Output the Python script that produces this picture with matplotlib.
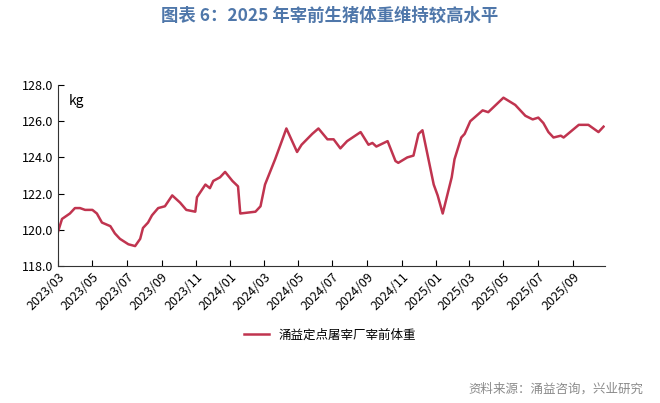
import matplotlib
matplotlib.use("Agg")
import matplotlib.pyplot as plt
import matplotlib.dates as mdates
import pandas as pd

plt.rcParams['font.family'] = ['Noto Sans CJK SC', 'DejaVu Sans']

dates = ["2023-03-01","2023-03-08","2023-03-22","2023-03-31","2023-04-09","2023-04-18","2023-05-01","2023-05-09",
 "2023-05-18","2023-06-02","2023-06-10","2023-06-19","2023-07-04","2023-07-16","2023-07-25","2023-07-30","2023-08-08",
 "2023-08-15","2023-08-26","2023-09-07","2023-09-20","2023-10-04","2023-10-15","2023-10-31","2023-11-03","2023-11-18",
 "2023-11-26","2023-12-02","2023-12-14","2023-12-23","2024-01-05","2024-01-15","2024-01-19","2024-02-15","2024-02-24",
 "2024-03-03","2024-03-21","2024-04-03","2024-04-10","2024-04-29","2024-05-07","2024-05-26","2024-06-06","2024-06-22",
 "2024-07-03","2024-07-15","2024-07-27","2024-08-20","2024-09-03","2024-09-10","2024-09-17","2024-10-07","2024-10-21",
 "2024-10-26","2024-11-11","2024-11-22","2024-12-01","2024-12-08","2024-12-28","2025-01-04","2025-01-13","2025-01-29",
 "2025-02-03","2025-02-15","2025-02-21","2025-03-03","2025-03-25","2025-04-04","2025-05-01","2025-05-22","2025-06-09",
 "2025-06-22","2025-07-02","2025-07-11","2025-07-20","2025-07-29","2025-08-11","2025-08-16","2025-09-12","2025-09-29",
 "2025-10-17","2025-10-26"]
weights = [119.9,120.6,120.9,121.2,121.2,121.1,121.1,120.9,120.4,120.2,119.8,119.5,119.2,119.1,119.5,120.1,120.4,
 120.8,121.2,121.3,121.9,121.5,121.1,121.0,121.8,122.5,122.3,122.7,122.9,123.2,122.7,122.4,120.9,121.0,121.3,
 122.5,123.9,125.0,125.6,124.3,124.7,125.3,125.6,125.0,125.0,124.5,124.9,125.4,124.7,124.8,124.6,124.9,123.8,
 123.7,124.0,124.1,125.3,125.5,122.5,121.9,120.9,122.9,123.9,125.1,125.3,126.0,126.6,126.5,127.3,126.9,126.3,
 126.1,126.2,125.9,125.4,125.1,125.2,125.1,125.8,125.8,125.4,125.7]
series_name = "涌益定点屠宰厂宰前体重"
title = "图表 6：2025 年宰前生猪体重维持较高水平"
source = "资料来源：涌益咨询，兴业研究"

fig = plt.figure(figsize=(6.6, 4.03), dpi=100)
ax = fig.add_axes([0.088, 0.34, 0.829, 0.449])
x = pd.to_datetime(dates)
ln, = ax.plot(x, weights, color="#c0344f", lw=1.8)
ax.set_ylim(118, 128)
ax.set_yticks([118, 120, 122, 124, 126, 128])
ax.yaxis.set_major_formatter(matplotlib.ticker.FormatStrFormatter('%.1f'))
ax.set_xlim(pd.Timestamp("2023-03-01"), pd.Timestamp("2025-10-29"))
ax.xaxis.set_major_locator(mdates.MonthLocator(bymonth=[1,3,5,7,9,11]))
ax.xaxis.set_major_formatter(mdates.DateFormatter('%Y/%m'))
for s in ['top', 'right']:
    ax.spines[s].set_visible(False)
for s in ['left', 'bottom']:
    ax.spines[s].set_color('#333333')
ax.tick_params(axis='x', rotation=45, labelsize=9, direction='in', length=4)
ax.tick_params(axis='y', labelsize=9, direction='in', length=4)
for lab in ax.get_xticklabels():
    lab.set_ha('right'); lab.set_rotation_mode('anchor')
ax.text(0.02, 0.95, "kg", transform=ax.transAxes, fontsize=10, va='top')
fig.text(0.5, 0.96, title, ha='center', va='center', fontsize=12.5, fontweight='bold', color='#4f77aa')
fig.legend([ln], [series_name], loc='center', bbox_to_anchor=(0.5, 0.168), frameon=False, fontsize=9)
fig.text(0.975, 0.035, source, ha='right', va='center', fontsize=9, color='#8a8a8a')
fig.savefig("out.png", dpi=100)
